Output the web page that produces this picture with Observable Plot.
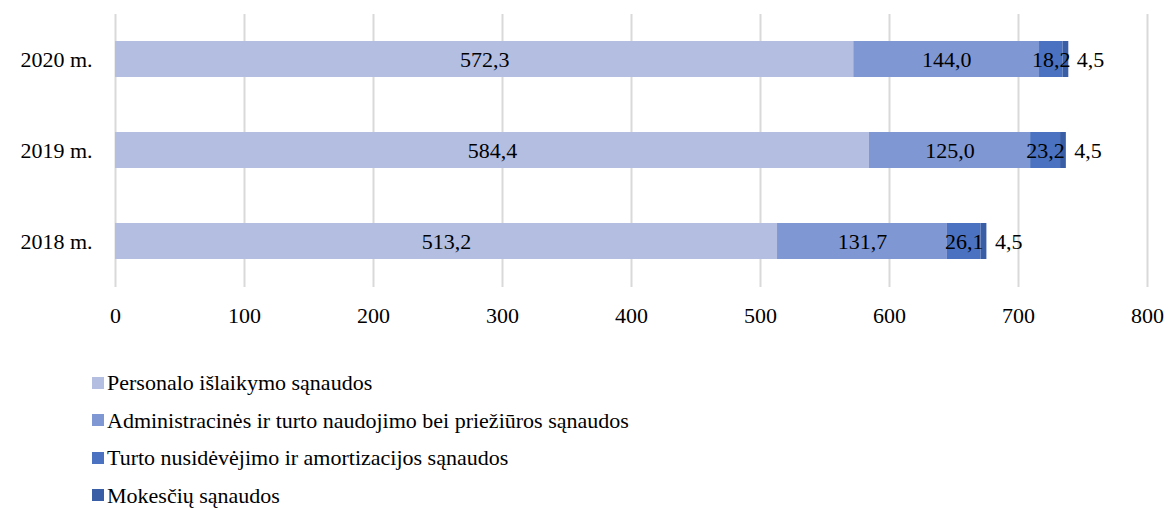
<!DOCTYPE html>
<html>
<head>
<meta charset="utf-8">
<script src="https://cdn.jsdelivr.net/npm/d3@7"></script>
<script src="https://cdn.jsdelivr.net/npm/@observablehq/plot@0.6"></script>
<style>
  body { margin: 0; background: #fff; font-family: "Liberation Serif", Tinos, "Times New Roman", Times, "DejaVu Serif", serif; }
  #legend { margin-top: 14px; padding-left: 92px; font-size: 22px; color: #000; }
  .item { height: 37.5px; line-height: 37.5px; display: flex; align-items: center; }
  .sw { width: 12px; height: 12px; margin-right: 3px; }
  svg text { font-family: "Liberation Serif", Tinos, "Times New Roman", Times, "DejaVu Serif", serif; }
</style>
</head>
<body>
<div id="chart"></div>
<div id="legend"></div>
<script>
const years = ["2020 m.", "2019 m.", "2018 m."];
const categories = [
  "Personalo išlaikymo sąnaudos",
  "Administracinės ir turto naudojimo bei priežiūros sąnaudos",
  "Turto nusidėvėjimo ir amortizacijos sąnaudos",
  "Mokesčių sąnaudos"
];
const colors = ["#b3bee0", "#7f97d3", "#4a72c1", "#3a5ea6"];
const personalo = [572.3, 584.4, 513.2];
const administracines = [144.0, 125.0, 131.7];
const turto = [18.2, 23.2, 26.1];
const mokesciu = [4.5, 4.5, 4.5];
const xTicks = [0, 100, 200, 300, 400, 500, 600, 700, 800];

const series = [personalo, administracines, turto, mokesciu];
const data = [];
years.forEach((y, i) => {
  categories.forEach((c, j) => data.push({year: y, cat: c, value: series[j][i]}));
});
const fmt = v => v.toFixed(1).replace(".", ",");
const last = categories[categories.length - 1];
const serif = "'Liberation Serif', Tinos, 'Times New Roman', Times, 'DejaVu Serif', serif";

const chart = Plot.plot({
  width: 1168,
  height: 350,
  marginLeft: 115,
  marginRight: 21,
  marginTop: 14,
  marginBottom: 63,
  style: {fontFamily: serif, fontSize: "22px", color: "#000", background: "#fff"},
  x: {domain: [0, 800], label: null},
  y: {domain: years, label: null, paddingInner: 0.604, paddingOuter: 0.302},
  color: {domain: categories, range: colors},
  marks: [
    Plot.gridX(xTicks, {stroke: "#d9d9d9", strokeOpacity: 1, strokeWidth: 2}),
    Plot.axisX(xTicks, {tickSize: 0, tickPadding: 20, fontSize: 22, tickFormat: d => String(d), label: null}),
    Plot.axisY({tickSize: 0, tickPadding: 23, fontSize: 22, label: null}),
    Plot.barX(data, {y: "year", x: "value", fill: "cat"}),
    Plot.text(data, Plot.stackX({y: "year", x: "value", text: d => d.cat !== last ? fmt(d.value) : null, fill: "#000", fontSize: 22})),
    Plot.text(data, Plot.stackX2({y: "year", x: "value", text: d => d.cat === last ? fmt(d.value) : null, fill: "#000", fontSize: 22, textAnchor: "start", dx: 8}))
  ]
});
document.getElementById("chart").appendChild(chart);

const legend = document.getElementById("legend");
categories.forEach((c, j) => {
  const it = document.createElement("div");
  it.className = "item";
  const sw = document.createElement("span");
  sw.className = "sw";
  sw.style.background = colors[j];
  const t = document.createElement("span");
  t.textContent = c;
  it.appendChild(sw);
  it.appendChild(t);
  legend.appendChild(it);
});
</script>
</body>
</html>
